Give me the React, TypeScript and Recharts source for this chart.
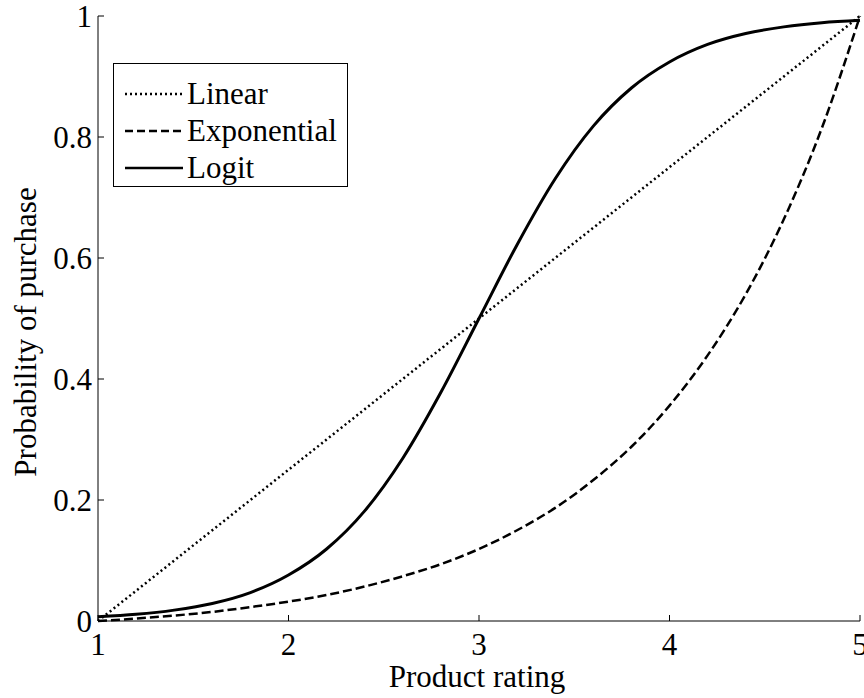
import { Legend, Line, LineChart, XAxis, YAxis } from "recharts";

// Product rating (x) and purchase probability for each model
const ratings = [1, 1.2, 1.4, 1.6, 1.8, 2, 2.2, 2.4, 2.6, 2.8, 3, 3.2, 3.4, 3.6, 3.8, 4, 4.2, 4.4, 4.6, 4.8, 5];
const linearProb = [0, 0.05, 0.1, 0.15, 0.2, 0.25, 0.3, 0.35, 0.4, 0.45, 0.5, 0.55, 0.6, 0.65, 0.7, 0.75, 0.8, 0.85, 0.9, 0.95, 1];
const exponentialProb = [0, 0.004, 0.009, 0.015, 0.023, 0.032, 0.043, 0.057, 0.074, 0.094, 0.119, 0.15, 0.187, 0.233, 0.288, 0.356, 0.439, 0.54, 0.664, 0.815, 1];
const logitProb = [0.007, 0.011, 0.018, 0.029, 0.047, 0.076, 0.119, 0.182, 0.269, 0.378, 0.5, 0.622, 0.731, 0.818, 0.881, 0.924, 0.953, 0.971, 0.982, 0.989, 0.993];

const seriesOrder = ["linear", "exponential", "logit"];
const xTicks = [1, 2, 3, 4, 5];
const yTicks = [0, 0.2, 0.4, 0.6, 0.8, 1];

const FONT = '"Liberation Serif", "Times New Roman", serif';
const FONT_SIZE = 31;

const chartData = ratings.map((r, i) => ({
    rating: r,
    linear: linearProb[i],
    exponential: exponentialProb[i],
    logit: logitProb[i],
}));

// inward tick marks, MATLAB style
function BottomTick({ x, y, payload }: any) {
    return (
        <g>
            <line x1={x} y1={y} x2={x} y2={y - 6} stroke="#000" />
            <text x={x} y={y + 34} textAnchor="middle" fontFamily={FONT} fontSize={FONT_SIZE} fill="#000">
                {payload.value}
            </text>
        </g>
    );
}

function LeftTick({ x, y, payload }: any) {
    return (
        <g>
            <line x1={x} y1={y} x2={x + 6} y2={y} stroke="#000" />
            <text x={x - 6} y={y + 11} textAnchor="end" fontFamily={FONT} fontSize={FONT_SIZE} fill="#000">
                {payload.value}
            </text>
        </g>
    );
}

function TopTick({ x, y }: any) {
    return <line x1={x} y1={y} x2={x} y2={y + 6} stroke="#000" />;
}

function RightTick({ x, y }: any) {
    return <line x1={x} y1={y} x2={x - 6} y2={y} stroke="#000" />;
}

const seriesStyle: Record<string, string | undefined> = {
    linear: "2 3",
    exponential: "8 4",
    logit: undefined,
};

function LegendBox({ payload }: any) {
    const items = [...(payload || [])].sort(
        (a: any, b: any) => seriesOrder.indexOf(a.dataKey) - seriesOrder.indexOf(b.dataKey)
    );
    return (
        <div
            style={{
                border: "1px solid #000",
                background: "#fff",
                width: 235,
                height: 124,
                boxSizing: "border-box",
                padding: "11px 0 0 11px",
            }}
        >
            {items.map((entry: any) => (
                <div key={entry.value} style={{ display: "flex", alignItems: "center", height: 37 }}>
                    <svg width={58} height={10}>
                        <line
                            x1={0}
                            y1={5}
                            x2={58}
                            y2={5}
                            stroke="#000"
                            strokeWidth={2.5}
                            strokeDasharray={seriesStyle[entry.dataKey]}
                        />
                    </svg>
                    <span style={{ fontFamily: FONT, fontSize: FONT_SIZE, color: "#000", marginLeft: 4, lineHeight: 1 }}>
                        {entry.value}
                    </span>
                </div>
            ))}
        </div>
    );
}

export default function App() {
    return (
        <div style={{ position: "absolute", left: 0, top: 0, width: 864, height: 698, background: "#fff" }}>
            <LineChart width={864} height={698} data={chartData} margin={{ top: 16, right: 4, bottom: 0, left: 0 }}>
                <XAxis
                    dataKey="rating"
                    type="number"
                    domain={[1, 5]}
                    ticks={xTicks}
                    height={77}
                    tickSize={0}
                    tickMargin={0}
                    tickLine={false}
                    axisLine={{ stroke: "#000" }}
                    tick={<BottomTick />}
                    label={{
                        content: () => (
                            <text x={477} y={687} textAnchor="middle" fontFamily={FONT} fontSize={FONT_SIZE} fill="#000">
                                Product rating
                            </text>
                        ),
                    }}
                />
                <XAxis
                    xAxisId="top"
                    orientation="top"
                    dataKey="rating"
                    type="number"
                    domain={[1, 5]}
                    ticks={xTicks}
                    height={0}
                    tickSize={0}
                    tickMargin={0}
                    tickLine={false}
                    axisLine={{ stroke: "#000" }}
                    tick={<TopTick />}
                />
                <YAxis
                    type="number"
                    domain={[0, 1]}
                    ticks={yTicks}
                    width={98}
                    tickSize={0}
                    tickMargin={0}
                    tickLine={false}
                    axisLine={{ stroke: "#000" }}
                    tick={<LeftTick />}
                    label={{
                        content: () => (
                            <text
                                x={36}
                                y={332}
                                transform="rotate(-90 36 332)"
                                textAnchor="middle"
                                fontFamily={FONT}
                                fontSize={FONT_SIZE}
                                fill="#000"
                            >
                                Probability of purchase
                            </text>
                        ),
                    }}
                />
                <YAxis
                    yAxisId="right"
                    orientation="right"
                    type="number"
                    domain={[0, 1]}
                    ticks={yTicks}
                    width={0}
                    tickSize={0}
                    tickMargin={0}
                    tickLine={false}
                    axisLine={{ stroke: "#000" }}
                    tick={<RightTick />}
                />
                <Legend
                    layout="vertical"
                    verticalAlign="middle"
                    align="center"
                    content={<LegendBox />}
                    wrapperStyle={{ left: 113, top: 63, width: 235 }}
                />
                <Line
                    name="Linear"
                    dataKey="linear"
                    type="monotone"
                    stroke="#000"
                    strokeWidth={2.5}
                    strokeDasharray="2 3"
                    dot={false}
                    isAnimationActive={false}
                />
                <Line
                    name="Exponential"
                    dataKey="exponential"
                    type="monotone"
                    stroke="#000"
                    strokeWidth={2.5}
                    strokeDasharray="9 4"
                    dot={false}
                    isAnimationActive={false}
                />
                <Line
                    name="Logit"
                    dataKey="logit"
                    type="monotone"
                    stroke="#000"
                    strokeWidth={3}
                    dot={false}
                    isAnimationActive={false}
                />
            </LineChart>
        </div>
    );
}
